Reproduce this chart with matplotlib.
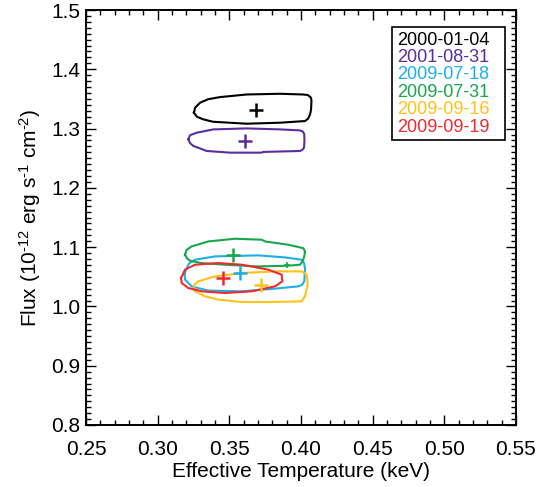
import matplotlib
matplotlib.use("Agg")
import matplotlib.pyplot as plt
from matplotlib.patches import Rectangle
from matplotlib.ticker import MultipleLocator, FormatStrFormatter

plt.rcParams['font.family'] = ['Liberation Sans', 'DejaVu Sans']
plt.rcParams['mathtext.default'] = 'regular'

# ---- data ----
labels = ["2000-01-04", "2001-08-31", "2009-07-18", "2009-07-31", "2009-09-16", "2009-09-19"]
colors = ["#000000", "#5b2d9e", "#1eaee9", "#17a64b", "#ffc21a", "#ee2a2e"]

# best-fit points (kT, flux)
best_kt = [0.3686, 0.3609, 0.3574, 0.3528, 0.3721, 0.3454]
best_flux = [1.3306, 1.2791, 1.0563, 1.0861, 1.0368, 1.0479]

# confidence contours (kT, flux)
c2000_kt = [0.3253, 0.3261, 0.3295, 0.3351, 0.3435, 0.3621, 0.3854, 0.4014, 0.4049, 0.4070, 0.4073, 0.4070, 0.4063, 0.4049, 0.4028, 0.3854, 0.3621, 0.3386, 0.3316, 0.3274, 0.3253]
c2000_fx = [1.3267, 1.3351, 1.3435, 1.3494, 1.3531, 1.3575, 1.3587, 1.3575, 1.3565, 1.3519, 1.3464, 1.3318, 1.3238, 1.3166, 1.3127, 1.3099, 1.3082, 1.3115, 1.3157, 1.3200, 1.3267]

c2001_kt = [0.3214, 0.3226, 0.3272, 0.3388, 0.3621, 0.3854, 0.3993, 0.4014, 0.4023, 0.4024, 0.4021, 0.4011, 0.3993, 0.3737, 0.3725, 0.3505, 0.3342, 0.3249, 0.3226, 0.3214]
c2001_fx = [1.2818, 1.2888, 1.2930, 1.2986, 1.3003, 1.2986, 1.2969, 1.2947, 1.2902, 1.2796, 1.2678, 1.2644, 1.2622, 1.2606, 1.2594, 1.2594, 1.2622, 1.2707, 1.2754, 1.2818]

c0718_kt = [0.3187, 0.3203, 0.3219, 0.3261, 0.3400, 0.3702, 0.3888, 0.4005, 0.4021, 0.4028, 0.4023, 0.4007, 0.3981, 0.3819, 0.3586, 0.3353, 0.3237, 0.3191, 0.3187]
c0718_fx = [1.0549, 1.0647, 1.0726, 1.0788, 1.0844, 1.0861, 1.0827, 1.0788, 1.0734, 1.0647, 1.0423, 1.0364, 1.0339, 1.0300, 1.0255, 1.0267, 1.0339, 1.0452, 1.0549]

c0731_kt = [0.3191, 0.3201, 0.3237, 0.3353, 0.3540, 0.3726, 0.3749, 0.3911, 0.4016, 0.4028, 0.4023, 0.4011, 0.3993, 0.3911, 0.3702, 0.3470, 0.3307, 0.3226, 0.3205, 0.3191]
c0731_fx = [1.0872, 1.0953, 1.1012, 1.1096, 1.1142, 1.1125, 1.1096, 1.1041, 1.0983, 1.0928, 1.0844, 1.0760, 1.0704, 1.0687, 1.0675, 1.0704, 1.0731, 1.0771, 1.0810, 1.0872]

c0916_kt = [0.3254, 0.3257, 0.3284, 0.3400, 0.3586, 0.3819, 0.4005, 0.4040, 0.4047, 0.4028, 0.4005, 0.3819, 0.3586, 0.3423, 0.3330, 0.3261, 0.3254]
c0916_fx = [1.0280, 1.0372, 1.0423, 1.0507, 1.0563, 1.0591, 1.0591, 1.0536, 1.0368, 1.0171, 1.0087, 1.0075, 1.0075, 1.0115, 1.0171, 1.0255, 1.0280]

c0919_kt = [0.3163, 0.3191, 0.3261, 0.3423, 0.3586, 0.3772, 0.3865, 0.3870, 0.3819, 0.3656, 0.3470, 0.3307, 0.3214, 0.3168, 0.3163]
c0919_fx = [1.0479, 1.0620, 1.0704, 1.0731, 1.0704, 1.0620, 1.0536, 1.0423, 1.0339, 1.0255, 1.0226, 1.0255, 1.0310, 1.0394, 1.0479]

# small secondary minimum inside the 2009-07-31 contour
minor_kt = [0.3900]
minor_fx = [1.0704]

contours = [(c2000_kt, c2000_fx), (c2001_kt, c2001_fx), (c0718_kt, c0718_fx),
            (c0731_kt, c0731_fx), (c0916_kt, c0916_fx), (c0919_kt, c0919_fx)]

# ---- figure ----
fig = plt.figure(figsize=(5.37, 4.87), dpi=100)
ax = fig.add_axes([86/537, 62/487, 430/537, 415/487])

for (kt, fx), c in zip(contours, colors):
    ax.plot(kt, fx, color=c, lw=1.5, solid_joinstyle='round')
ax.plot(minor_kt, minor_fx, marker='+', color=colors[3], ms=4, mew=1.2, ls='none')
for x, y, c in zip(best_kt, best_flux, colors):
    ax.plot([x], [y], marker='+', color=c, ms=10, mew=1.8, ls='none')

ax.set_xlim(0.25, 0.55)
ax.set_ylim(0.8, 1.5)
ax.xaxis.set_major_locator(MultipleLocator(0.05))
ax.xaxis.set_minor_locator(MultipleLocator(0.01))
ax.yaxis.set_major_locator(MultipleLocator(0.1))
ax.yaxis.set_minor_locator(MultipleLocator(0.01))
ax.xaxis.set_major_formatter(FormatStrFormatter('%.2f'))
ax.yaxis.set_major_formatter(FormatStrFormatter('%.1f'))

ax.tick_params(which='both', direction='in', top=True, right=True, width=1, color='black')
ax.tick_params(which='major', length=7, labelsize=15)
ax.tick_params(which='minor', length=3.5)
ax.tick_params(axis='x', which='major', pad=11)
ax.tick_params(axis='y', which='major', pad=4)
for s in ax.spines.values():
    s.set_linewidth(1.4)

ax.set_xlabel("Effective Temperature (keV)", fontsize=15, labelpad=2)
ax.set_ylabel("Flux (10$^{\u2010 12}$ erg s$^{\u20101}$ cm$^{\u20102}$)".replace("\u2010 ", "\u2010"),
              fontsize=15, labelpad=6)

# legend box
ax.add_patch(Rectangle((0.7116, 0.6867), 0.9744 - 0.7116, 0.959 - 0.6867,
                       transform=ax.transAxes, fill=False, ec='black', lw=1.2))
for i, (lab, c) in enumerate(zip(labels, colors)):
    ax.text(0.7226, 0.9277 - i * 0.04207, lab, color=c, fontsize=13,
            transform=ax.transAxes, va='center', ha='left')

fig.savefig("out.png", dpi=100)
